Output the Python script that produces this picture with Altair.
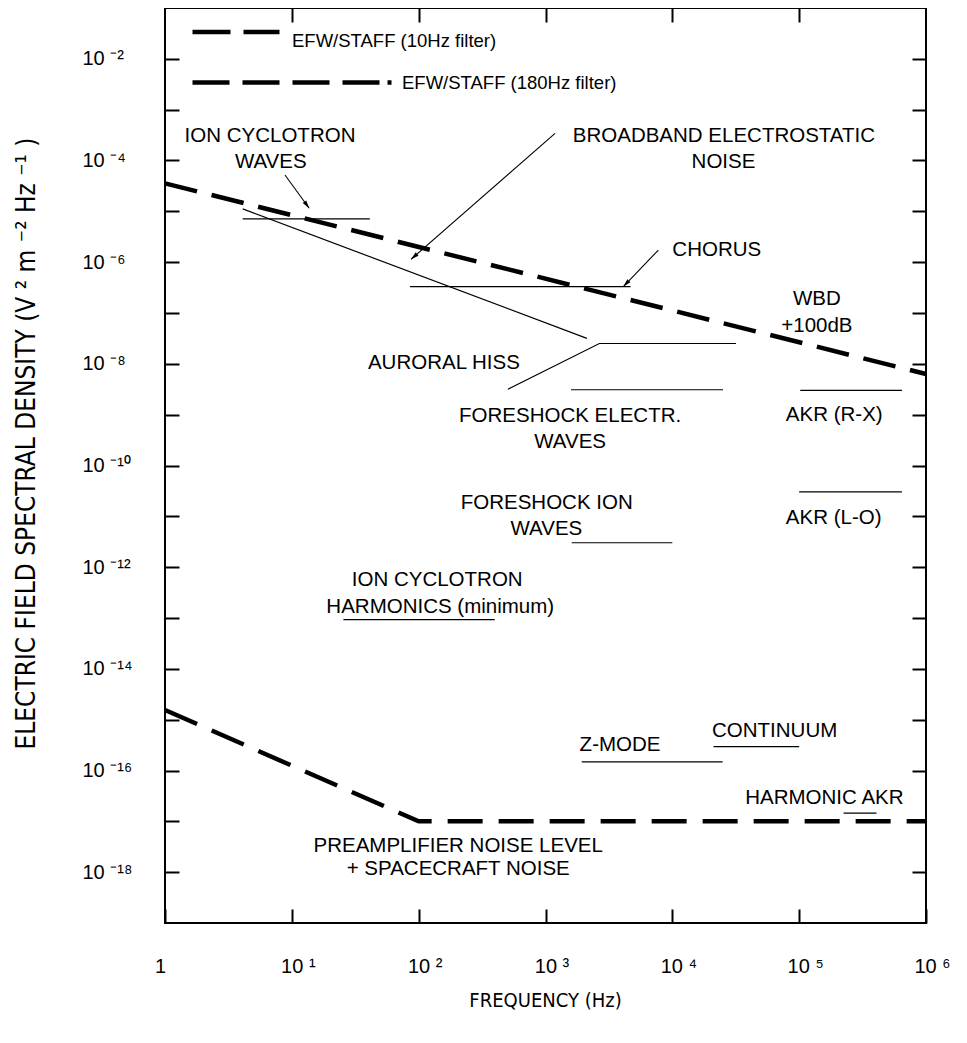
import math
import altair as alt
import pandas as pd

# ---------------- data ----------------
# instrument levels: frequency [Hz], spectral density [V^2 m^-2 Hz^-1]
efw10_freq = [1, 1e6]
efw10_psd = [3.55e-5, 6.3e-9]
efw180_freq = [1, 100, 1e6]
efw180_psd = [1.55e-15, 1e-17, 1e-17]
legend_labels = ["EFW/STAFF (10Hz filter)", "EFW/STAFF (180Hz filter)"]

# natural wave emissions (thin lines)
wave_names = ["ion_cyclotron", "ben", "auroral_hiss", "chorus", "foreshock_e",
              "akr_rx", "foreshock_ion", "akr_lo", "ic_harmonics", "z_mode",
              "continuum", "harmonic_akr"]
wave_freqs = [[4.1, 41.2], [4.1, 2120], [505, 2660, 31800], [85.5, 4680],
              [1590, 25100], [1.02e5, 6.46e5], [1610, 1.0e4], [1.0e5, 6.46e5],
              [25.5, 398], [1930, 24900], [21100, 1.0e5], [2.24e5, 4.07e5]]
wave_psds = [[7.1e-6, 7.1e-6], [1.12e-5, 3.16e-8], [3.16e-9, 2.51e-8, 2.51e-8],
             [3.31e-7, 3.31e-7], [3.09e-9, 3.09e-9], [3.0e-9, 3.0e-9],
             [3.02e-12, 3.02e-12], [3.02e-11, 3.02e-11], [9.3e-14, 9.3e-14],
             [1.48e-16, 1.48e-16], [2.95e-16, 2.95e-16], [1.45e-17, 1.45e-17]]

# annotation arrows
arrow_from_freq = [8.83, 1190, 7760]
arrow_from_psd = [5.19e-5, 3.43e-4, 1.73e-6]
arrow_to_freq = [13.7, 87.1, 4110]
arrow_to_psd = [1.15e-5, 1.14e-6, 3.31e-7]

# text labels (centre of each line of text)
label_texts = ["ION CYCLOTRON", "WAVES", "BROADBAND ELECTROSTATIC", "NOISE",
               "CHORUS", "WBD", "+100dB", "AURORAL HISS", "FORESHOCK ELECTR.",
               "WAVES", "FORESHOCK ION", "WAVES", "ION CYCLOTRON",
               "HARMONICS (minimum)", "AKR (R-X)", "AKR (L-O)", "Z-MODE",
               "CONTINUUM", "HARMONIC AKR", "PREAMPLIFIER NOISE LEVEL",
               "+ SPACECRAFT NOISE"]
label_freqs = [6.73, 6.82, 25500, 25300, 22400, 1.38e5, 1.38e5, 158, 1563,
               1563, 1023, 1016, 140, 148, 1.89e5, 1.87e5, 3870, 64100,
               1.58e5, 205, 205]
label_psds = [3.1e-4, 9.46e-5, 3.06e-4, 9.33e-5, 1.73e-6, 1.88e-7, 5.6e-8,
              1.02e-8, 9.4e-10, 2.94e-10, 1.8e-11, 5.62e-12, 5.58e-13,
              1.67e-13, 9.84e-10, 9.27e-12, 3.16e-16, 5.89e-16, 2.87e-17,
              3.34e-18, 1.15e-18]

# ticks
x_tick_values = [1, 10, 100, 1e3, 1e4, 1e5, 1e6]
x_tick_labels = ["1", "10 ¹", "10 ²", "10 ³", "10 ⁴", "10 ⁵", "10 ⁶"]
y_tick_values = [1e-2, 1e-3, 1e-4, 1e-5, 1e-6, 1e-7, 1e-8, 1e-9, 1e-10,
                 1e-11, 1e-12, 1e-13, 1e-14, 1e-15, 1e-16, 1e-17, 1e-18]
y_tick_labels = ["10 ⁻²", "", "10 ⁻⁴", "", "10 ⁻⁶", "", "10 ⁻⁸", "",
                 "10 ⁻¹⁰", "", "10 ⁻¹²", "", "10 ⁻¹⁴", "", "10 ⁻¹⁶", "",
                 "10 ⁻¹⁸"]

# ---------------- layout ----------------
W, H = 761, 915
X_DOM = [1, 1e6]
Y_DOM = [1e-19, 1e-1]
FONT = "Liberation Sans, Arial, Helvetica, sans-serif"
NARROW = "Liberation Sans Narrow, Arial Narrow, DejaVu Sans Condensed, Liberation Sans, sans-serif"


def to_px(f, p):
    lx = (math.log10(f) - math.log10(X_DOM[0])) / (math.log10(X_DOM[1]) - math.log10(X_DOM[0]))
    ly = (math.log10(Y_DOM[1]) - math.log10(p)) / (math.log10(Y_DOM[1]) - math.log10(Y_DOM[0]))
    return lx * W, ly * H


def label_expr(values, labels):
    parts = [f"datum.value === {v!r} ? '{t}'" for v, t in zip(values, labels)]
    return " : ".join(parts) + " : ''"


xscale = alt.Scale(type="log", domain=X_DOM, nice=False)
yscale = alt.Scale(type="log", domain=Y_DOM, nice=False)

tick_common = dict(offset=-14, tickSize=14, tickWidth=2, tickColor="black",
                   domain=False, grid=False)

bottom_axis = alt.Axis(
    orient="bottom", values=x_tick_values,
    labelExpr=label_expr(x_tick_values, x_tick_labels),
    labelFlush=False, labelOverlap=False, labelFont=FONT, labelFontSize=20,
    labelColor="black", labelBaseline="alphabetic", labelPadding=49,
    labelOffset={"condition": {"test": "datum.value === 1", "value": -5}, "value": 6},
    title="FREQUENCY (Hz)", titleFont=NARROW, titleFontSize=20,
    titleFontWeight="normal", titleColor="black", titleX=380, titleY=91,
    titleBaseline="middle", titleAlign="center", **tick_common)
top_axis = alt.Axis(orient="top", values=x_tick_values[1:-1], labels=False,
                    title=None, **tick_common)
left_axis = alt.Axis(
    orient="left", values=y_tick_values,
    labelExpr=label_expr(y_tick_values, y_tick_labels),
    labelFlush=False, labelOverlap=False, labelFont=FONT, labelFontSize=20,
    labelColor="black", labelAlign="left", labelBaseline="middle",
    labelPadding=83,
    title="ELECTRIC FIELD SPECTRAL DENSITY (V ² m ⁻² Hz ⁻¹ )",
    titleFont=NARROW, titleFontSize=26, titleFontWeight="normal",
    titleColor="black", titleAngle=270, titleX=-153, titleY=435,
    titleBaseline="middle", titleAlign="center", **tick_common)
right_axis = alt.Axis(orient="right", values=y_tick_values, labels=False,
                      title=None, **tick_common)

# ---------------- frames of data ----------------
df10 = pd.DataFrame({"freq": efw10_freq, "psd": efw10_psd})
df180 = pd.DataFrame({"freq": efw180_freq, "psd": efw180_psd})
# single-point frames: they only carry the legend entries (draw nothing)
df_leg1 = pd.DataFrame({"freq": [efw10_freq[0]], "psd": [efw10_psd[0]],
                        "series": [legend_labels[0]]})
df_leg2 = pd.DataFrame({"freq": [efw180_freq[0]], "psd": [efw180_psd[0]],
                        "series": [legend_labels[1]]})

wave_rows = []
for name, fs, ps in zip(wave_names, wave_freqs, wave_psds):
    for i, (f, p) in enumerate(zip(fs, ps)):
        wave_rows.append({"wave": name, "order": i, "freq": f, "psd": p})
df_waves = pd.DataFrame(wave_rows)

arrow_rows = []
for i, (f0, p0, f1, p1) in enumerate(zip(arrow_from_freq, arrow_from_psd,
                                         arrow_to_freq, arrow_to_psd)):
    x0, y0 = to_px(f0, p0)
    x1, y1 = to_px(f1, p1)
    ang = (math.degrees(math.atan2(x1 - x0, -(y1 - y0))) + 360) % 360
    arrow_rows.append({"arrow": i, "freq": f0, "psd": p0, "freq2": f1,
                       "psd2": p1, "angle": ang})
df_arrows = pd.DataFrame(arrow_rows)

df_labels = pd.DataFrame({"text": label_texts, "freq": label_freqs,
                          "psd": label_psds})

# ---------------- layers ----------------
Xn = alt.X("freq:Q", scale=xscale, axis=None)
Yn = alt.Y("psd:Q", scale=yscale, axis=None)

leg1 = alt.Legend(
    title=None, orient="none", legendX=25, legendY=-22, symbolType="stroke",
    symbolSize=87 * 87, symbolStrokeWidth=4.5, symbolStrokeColor="black",
    symbolOpacity=1, labelFont=FONT, labelFontSize=18.5, labelColor="black",
    labelOffset=10, labelBaseline="top", labelLimit=0)
leg2 = alt.Legend(
    title=None, orient="none", legendX=25, legendY=-29, symbolType="stroke",
    symbolSize=202 * 202, symbolStrokeWidth=4.5, symbolStrokeColor="black",
    symbolOpacity=1, labelFont=FONT, labelFontSize=18.5, labelColor="black",
    labelOffset=5, labelLimit=0)

legend10 = alt.Chart(df_leg1).mark_line(color="black", strokeWidth=4.5, strokeCap="butt").encode(
    x=Xn, y=Yn,
    strokeDash=alt.StrokeDash("series:N", scale=alt.Scale(domain=[legend_labels[0]], range=[[38, 13]]), legend=leg1))
legend180 = alt.Chart(df_leg2).mark_line(color="black", strokeWidth=4.5, strokeCap="butt").encode(
    x=Xn, y=Yn,
    strokeDash=alt.StrokeDash("series:N", scale=alt.Scale(domain=[legend_labels[1]],
                              range=[[37, 13, 37, 13, 37, 13, 37, 8, 4, 200]]), legend=leg2))

line10 = alt.Chart(df10).mark_line(color="black", strokeWidth=4.5, strokeCap="butt",
                                   strokeDash=[33, 15]).encode(x=Xn, y=Yn)
line180 = alt.Chart(df180).mark_line(color="black", strokeWidth=4.5, strokeCap="butt",
                                     strokeDash=[35, 16]).encode(x=Xn, y=Yn)

waves = alt.Chart(df_waves).mark_line(color="black", strokeWidth=1.2).encode(
    x=alt.X("freq:Q", scale=xscale, axis=top_axis),
    y=alt.Y("psd:Q", scale=yscale, axis=right_axis),
    detail="wave:N", order="order:Q")

arrow_lines = alt.Chart(df_arrows).mark_rule(color="black", strokeWidth=1.1).encode(
    x=Xn, y=Yn, x2="freq2:Q", y2="psd2:Q")
arrow_heads = alt.Chart(df_arrows).mark_point(
    shape="M0,0L0.55,2L-0.55,2Z", filled=True, color="black", opacity=1, size=64).encode(
    x=alt.X("freq2:Q", scale=xscale, axis=None),
    y=alt.Y("psd2:Q", scale=yscale, axis=None),
    angle=alt.Angle("angle:Q", scale=None))

texts = alt.Chart(df_labels).mark_text(
    font=FONT, fontSize=20.5, color="black", align="center", baseline="middle").encode(
    x=alt.X("freq:Q", scale=xscale, axis=bottom_axis),
    y=alt.Y("psd:Q", scale=yscale, axis=left_axis),
    text="text:N")

chart = alt.layer(legend10, legend180, line10, line180, waves, arrow_lines,
                  arrow_heads, texts).resolve_axis(
    x="independent", y="independent").resolve_scale(strokeDash="independent").properties(
    width=W, height=H,
    autosize=alt.AutoSizeParams(type="none"),
    padding={"left": 157, "top": 0, "right": 30, "bottom": 105},
    background="white",
).configure_view(stroke="black", strokeWidth=2)

chart.save("out.html", embed_options={"renderer": "svg", "actions": False})
